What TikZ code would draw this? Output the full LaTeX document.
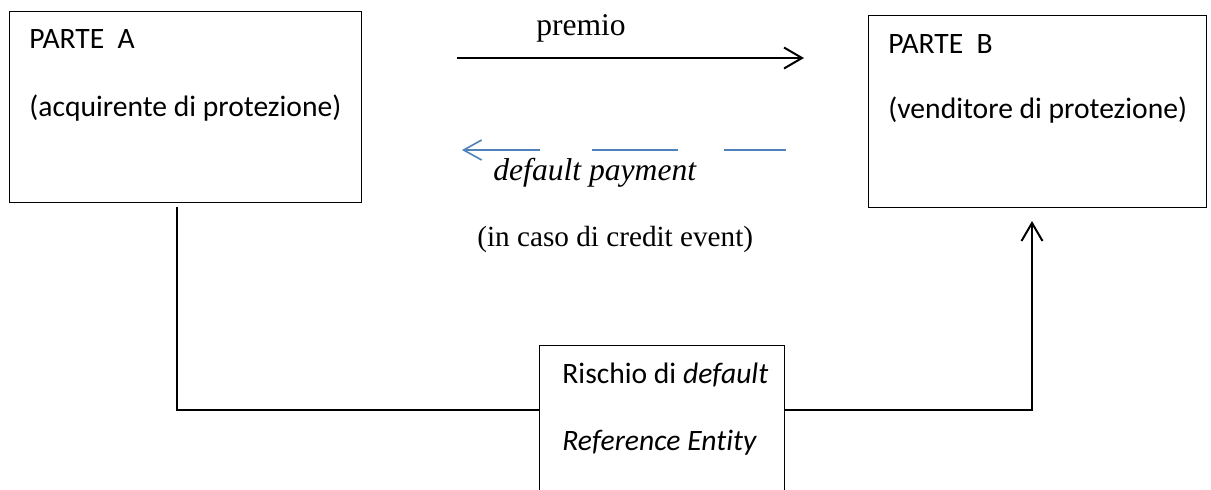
\documentclass[tikz,border=0pt]{standalone}
\usepackage{fontspec}
\setmainfont{Liberation Serif}
\newfontfamily\calfont[Ligatures=NoCommon]{Carlito}
\usetikzlibrary{arrows.meta}
\definecolor{officeblue}{HTML}{4F81BD}
\begin{document}
\begin{tikzpicture}[x=0.5pt,y=-0.5pt,
  party/.style={draw, line width=0.6pt, rectangle, anchor=north west, inner sep=0pt},
  boxtext/.style={anchor=base west, inner sep=0pt, font=\calfont\fontsize{14.8}{17}\selectfont},
  flowtext/.style={anchor=base west, inner sep=0pt, font=\fontsize{15.8}{18}\selectfont},
  flow/.style={line width=1pt},
  barb/.style={-{Straight Barb[length=9pt,width=10.5pt,line width=1pt]}}
]
\clip (0,0) rectangle (1211,489);
\fill[white] (0,0) rectangle (1211,489);

% the three parties
\node[party, minimum width=176pt, minimum height=95.5pt] (boxA) at (9,11) {};
\node[party, minimum width=169pt, minimum height=96pt] (boxB) at (868,15) {};
\node[party, minimum width=122.5pt, minimum height=110pt] (boxC) at (539,345) {};

\node[boxtext] (aTitle) at (29,48) {PARTE\ \ A};
\node[boxtext] (aRole) at (29,116) {(acquirente di protezione)};
\node[boxtext] (bTitle) at (888,53) {PARTE\ \ B};
\node[boxtext] (bRole) at (888,118) {(venditore di protezione)};
\node[boxtext] (cRisk) at (562,383) {Rischio di \textit{default}};
\node[boxtext] (cEntity) at (562,450) {\textit{Reference Entity}};

% premium flow
\coordinate (pStart) at (457,58);
\coordinate (pEnd) at (804,58);
\draw[flow, barb] (pStart) -- (pEnd);
\node[flowtext, anchor=base] (premio) at (581,35) {premio};

% default payment flow (dashed, blue)
\coordinate (dA) at (540,150);
\coordinate (dTip) at (462,150);
\coordinate (dB1) at (592,150);
\coordinate (dB2) at (678,150);
\coordinate (dC1) at (724,150);
\coordinate (dC2) at (786,150);
\draw[officeblue, line width=0.8pt, -{Straight Barb[length=9pt,width=10pt,line width=0.8pt]}] (dA) -- (dTip);
\draw[officeblue, line width=0.8pt] (dB1) -- (dB2);
\draw[officeblue, line width=0.8pt] (dC1) -- (dC2);
\node[flowtext] (dpay) at (493,180) {\textit{default payment}};
\node[flowtext, font=\fontsize{14.6}{17}\selectfont] (dcase) at (477,246) {(in caso di credit event)};

% risk links through the reference entity
\coordinate (aDrop) at (177,207);
\coordinate (cLeft) at (539,410);
\coordinate (cRight) at (784,410);
\coordinate (bRise) at (1032,221);
\draw[flow] (aDrop) |- (cLeft);
\draw[flow, barb] (cRight) -| (bRise);
\end{tikzpicture}
\end{document}
